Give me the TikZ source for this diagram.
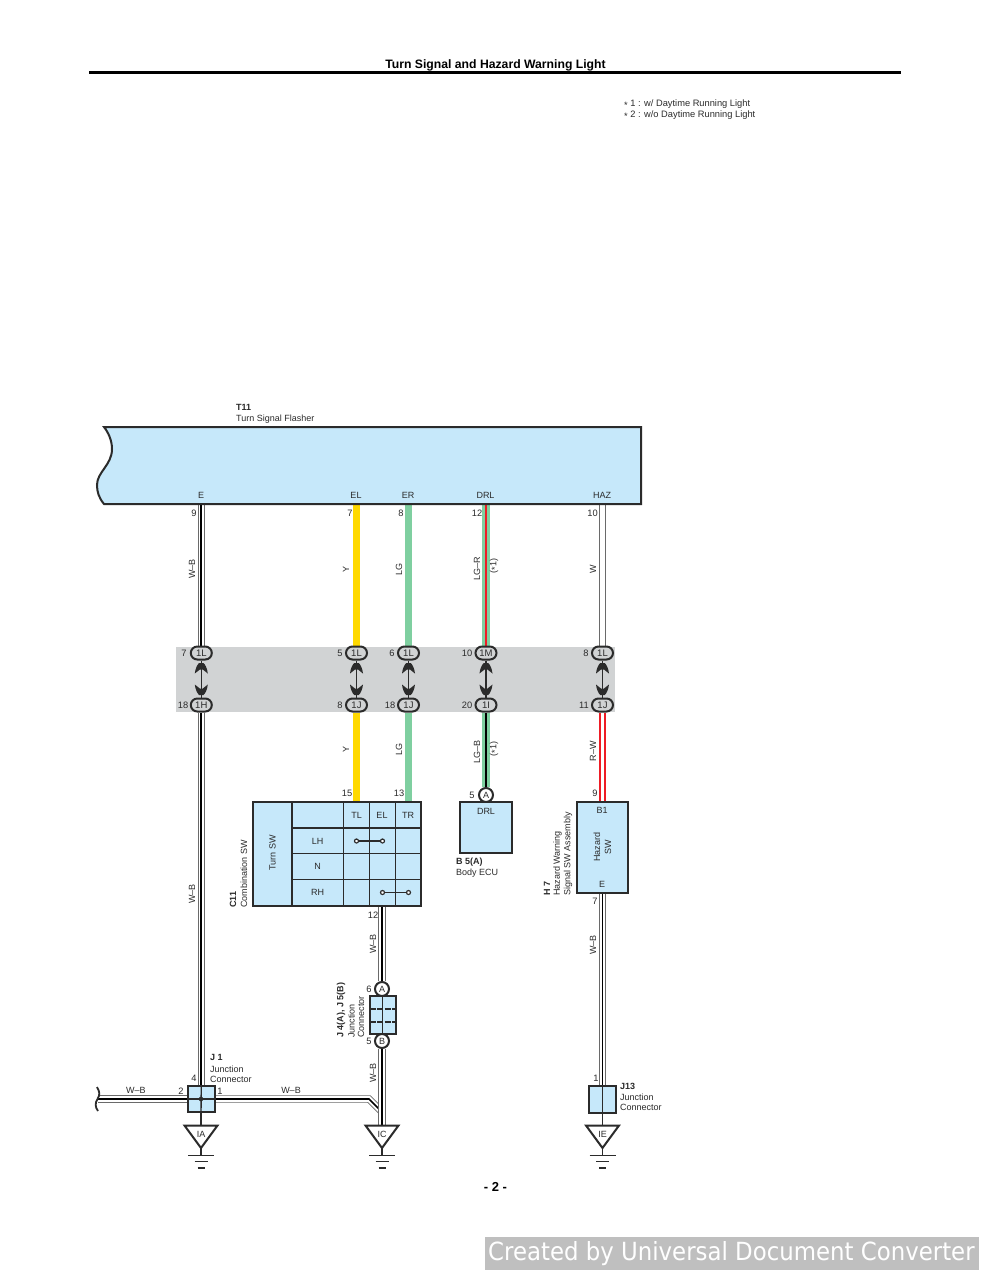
\documentclass[tikz,border=0pt]{standalone}
\usepackage{fontspec}
\setmainfont{Liberation Sans}
\newfontfamily\wmfont{DejaVu Sans}
\pgfdeclarelayer{bandlayer}
\pgfdeclarelayer{wirelayer}
\pgfsetlayers{bandlayer,wirelayer,main}
\definecolor{ecu}{HTML}{C6E8FA}
\definecolor{band}{HTML}{D1D3D4}
\definecolor{ink}{HTML}{2B2B2B}
\definecolor{wy}{HTML}{FFD900}
\definecolor{wg}{HTML}{7FCFA0}
\definecolor{wr}{HTML}{EE1C25}
\definecolor{wedge}{HTML}{6A6A6A}
\tikzset{
  txt/.style={text=ink,font=\fontsize{9}{10}\selectfont,inner sep=0pt},
  lab/.style={txt,anchor=west},
  blab/.style={txt,anchor=west,font=\fontsize{9}{10}\selectfont\bfseries},
  rlab/.style={txt,rotate=90},
  vlab/.style={txt,rotate=90,anchor=west},
  vblab/.style={vlab,font=\fontsize{9}{10}\selectfont\bfseries},
  pin/.style={txt,anchor=center,font=\fontsize{9.3}{10}\selectfont},
  box/.style={draw=ink,line width=2pt,fill=ecu,inner sep=0pt},
  oval/.style={draw=ink,line width=2pt,fill=band,rounded corners=6.5pt,minimum width=21pt,minimum height=13pt,inner sep=0pt,text=ink,font=\fontsize{9.5}{10}\selectfont},
  ringnode/.style={circle,draw=ink,line width=2pt,fill=white,minimum size=14pt,inner sep=0pt,text=ink,font=\fontsize{9}{10}\selectfont},
  gridline/.style={draw=ink,line width=1.3pt},
  wireWB/.style={draw=black,line width=1.7pt,preaction={draw=wedge,line width=7.4pt},preaction={draw=white,line width=5.6pt}},
  wireW/.style={draw=white,line width=5.6pt,preaction={draw=wedge,line width=7.4pt}},
  wireY/.style={draw=wy,line width=7.4pt},
  wireLG/.style={draw=wg,line width=7.4pt},
  wireLGR/.style={draw=wr,line width=2.2pt,preaction={draw=wg,line width=7.4pt}},
  wireLGB/.style={draw=black,line width=2.2pt,preaction={draw=wg,line width=7.4pt}},
  wireRW/.style={draw=white,line width=2.6pt,preaction={draw=wr,line width=7.4pt}},
  thinlink/.style={draw=ink,line width=1.4pt},
  conn/.style={draw=ink,line width=1.4pt},
  head/.style={fill=ink},
  tri/.style={draw=ink,line width=2pt,fill=white,line join=miter},
  gnd/.style={draw=ink,line width=1.2pt},
  sw/.style={draw=ink,line width=1.2pt},
  swdot/.style={circle,draw=ink,line width=1.2pt,fill=white,minimum size=4pt,inner sep=0pt},
  spot/.style={coordinate}
}
\newcommand{\earth}[4]{%
  \node[spot] (#1top) at (#2,1125.5) {};
  \draw[tri] (#2-16.5,1125.5) -- (#2+16.5,1125.5) -- (#2,1148) -- cycle;
  \node[txt] (#1) at (#2,1134) {#3};
  \draw[gnd] (#2,1148) -- (#2,1155.5);
  \draw[gnd] (#2-13,1155.5) -- (#2+13,1155.5);
  \draw[gnd] (#2-6.5,1161.7) -- (#2+6.5,1161.7);
  \draw[gnd] (#2-3.5,1168) -- (#2+3.5,1168);
}
\begin{document}
\begin{tikzpicture}[x=1pt,y=-1pt]
\useasboundingbox (0,0) rectangle (989,1280);
\begin{pgfonlayer}{bandlayer}
\fill[white] (0,0) rectangle (989,1280);
\fill[band] (176,647) rectangle (614.5,712);
\end{pgfonlayer}
% title
\node[txt,font=\fontsize{12.2}{14}\selectfont\bfseries,text=black] (title) at (495.5,65) {Turn Signal and Hazard Warning Light};
\draw[black,line width=2.6pt] (89,72.5) -- (901,72.5);
\node[lab,font=\fontsize{9.3}{10}\selectfont] (n1) at (624,104) {\raisebox{-.35ex}{*} 1 : w/ Daytime Running Light};
\node[lab,font=\fontsize{9.3}{10}\selectfont] (n2) at (624,115) {\raisebox{-.35ex}{*} 2 : w/o Daytime Running Light};
% T11
\draw[box] (104,427) -- (641,427) -- (641,504) -- (104,504)
  .. controls (99,498) and (97,492) .. (97,485)
  .. controls (97,472) and (112,465) .. (112,449)
  .. controls (112,440) and (108,432) .. (104,427) -- cycle;
\node[blab] (t11) at (236,407.5) {T11};
\node[lab] (t11b) at (236,419) {Turn Signal Flasher};
\node[spot] (tE) at (201.3,504) {};
\node[spot] (tEL) at (356.5,504) {};
\node[spot] (tER) at (408.5,504) {};
\node[spot] (tDRL) at (486,504) {};
\node[spot] (tHAZ) at (602.5,504) {};
\node[txt] (lE) at (201,495) {E};
\node[txt] (lEL) at (356,495) {EL};
\node[txt] (lER) at (408,495) {ER};
\node[txt] (lDRL) at (485.5,495) {DRL};
\node[txt] (lHAZ) at (602,495) {HAZ};
% connector ovals
\foreach \nm/\xx/\tu/\tl in {a/201.3/1L/1H,b/356.5/1L/1J,c/408.5/1L/1J,d/486/1M/1I,e/602.5/1L/1J}{
  \node[oval] (\nm u) at (\xx,653) {\tu};
  \node[oval] (\nm l) at (\xx,705) {\tl};
  \draw[conn] (\nm u.south) -- (\nm l.north);
  \fill[head,shift={(\nm u.south)}] (-2.2,2.5) -- (2.2,2.5) .. controls (4,4) and (6,8) .. (6.5,13) -- (1.5,9) -- (-1.5,9) -- (-6.5,13) .. controls (-6,8) and (-4,4) .. (-2.2,2.5) -- cycle;
  \fill[head,shift={(\nm l.north)}] (-2.2,-2.5) -- (2.2,-2.5) .. controls (4,-4) and (6,-8) .. (6.5,-13) -- (1.5,-9) -- (-1.5,-9) -- (-6.5,-13) .. controls (-6,-8) and (-4,-4) .. (-2.2,-2.5) -- cycle;
}
% pins
\foreach \xx/\yy/\tt in {194/513/9,350/513/7,401/513/8,477/513/12,592.5/513/10,
  184/653/7,340/653/5,392/653/6,467/653/10,586/653/8,
  183/705/18,340/705/8,390/705/18,467/705/20,584/705/11,
  347/793/15,399/793/13,472/795/5,595/793/9,373/915/12,369/989/6,369/1041/5,
  595/901/7,596/1078/1,194/1078/4,181/1091/2,220/1091/1}{
  \node[pin] at (\xx,\yy) {\tt};
}
% wire labels
\foreach \xx/\yy/\tt in {192/569/W--B,346/569/Y,399/569/LG,477/569/LG--R,494/566/(\raisebox{-.35ex}{*}1),593/569/W,
  346/749/Y,399/749/LG,477/752/LG--B,494/749/(\raisebox{-.35ex}{*}1),593/751/R--W,192/894/W--B,
  373/944/W--B,373/1073/W--B,593/945/W--B}{
  \node[rlab] at (\xx,\yy) {\tt};
}
\node[txt] (wbl) at (136,1090) {W--B};
\node[txt] (wbr) at (291,1090) {W--B};
% Combination SW
\draw[box] (253,802) rectangle (421,906);
\node[spot] (swTL) at (356.5,802) {};
\node[spot] (swTR) at (408.5,802) {};
\node[spot] (swB) at (382,906) {};
\draw[gridline] (292,802) -- (292,906) (343.5,802) -- (343.5,906) (369.5,802) -- (369.5,906) (395.5,802) -- (395.5,906);
\draw[gridline] (292,828) -- (421,828) (292,853.5) -- (421,853.5) (292,879.5) -- (421,879.5);
\node[txt] (sTL) at (356.5,815) {TL};
\node[txt] (sEL) at (382,815) {EL};
\node[txt] (sTR) at (408,815) {TR};
\node[txt] (sLH) at (317.5,841) {LH};
\node[txt] (sN) at (317.5,866) {N};
\node[txt] (sRH) at (317.5,892) {RH};
\node[rlab] (sT) at (272.5,853) {Turn SW};
\node[swdot] (d1) at (356.5,841) {};
\node[swdot] (d2) at (382.5,841) {};
\node[swdot] (d3) at (382.5,892.5) {};
\node[swdot] (d4) at (408.5,892.5) {};
\draw[sw] (d1) -- (d2);
\draw[sw] (d3) -- (d4);
\node[vblab] (c11) at (233,908) {C11};
\node[vlab] (c11b) at (244,908) {Combination SW};
% Body ECU
\node[ringnode] (A1) at (486,795) {A};
\draw[box] (460,802) rectangle (512,853);
\node[spot] (ecuT) at (486,802) {};
\node[txt] (drl2) at (486,811) {DRL};
\node[blab] (b5) at (456,862.5) {B 5(A)};
\node[lab] (b5b) at (456,873.5) {Body ECU};
% Hazard
\draw[box] (577,802) rectangle (628,892.5);
\node[spot] (hT) at (602.5,802) {};
\node[spot] (hB) at (602.5,892.5) {};
\node[txt] (hb1) at (602,810) {B1};
\node[txt] (he) at (602,884) {E};
\node[rlab] (hs1) at (597,847) {Hazard};
\node[rlab] (hs2) at (608,847) {SW};
\node[vblab] (h7) at (547,896) {H 7};
\node[vlab] (h7a) at (557.5,896) {Hazard Warning};
\node[vlab] (h7b) at (568,896) {Signal SW Assembly};
% J4/J5
\node[ringnode] (A2) at (382,989) {A};
\node[ringnode] (B2) at (382,1041) {B};
\draw[box] (369.5,996) rectangle (396,1034);
\draw[draw=ink,line width=1.4pt] (382.7,996) -- (382.7,1034);
\draw[draw=ink,line width=1.4pt,dash pattern=on 6pt off 1.5pt] (369.5,1009) -- (396,1009) (369.5,1022) -- (396,1022);
\node[spot] (j4T) at (382,996) {};
\node[vblab] (j4) at (341,1038) {J 4(A), J 5(B)};
\node[vlab] (j4a) at (351.5,1038) {Junction};
\node[vlab] (j4b) at (361,1038) {Connector};
% J1
\draw[box] (188,1086) rectangle (214.5,1112);
\node[spot] (j1c) at (201,1099) {};
\node[spot] (j1T) at (201.3,1086) {};
\node[spot] (j1L) at (188,1099) {};
\node[spot] (j1R) at (214.5,1099) {};
\node[spot] (j1B) at (201,1112) {};
\draw[thinlink] (j1T) -- (j1B);
\draw[thinlink] (j1L) -- (j1R);
\fill[ink] (j1c) circle (2.3pt);
\node[blab] (j1) at (210,1057.5) {J 1};
\node[lab] (j1a) at (210,1069.5) {Junction};
\node[lab] (j1b) at (210,1079.5) {Connector};
% J13
\draw[box] (589,1086) rectangle (615.5,1113);
\node[spot] (j13T) at (602.5,1086) {};
\node[spot] (j13B) at (602.5,1113) {};
\draw[thinlink] (j13T) -- (j13B);
\node[blab] (j13) at (620,1086.5) {J13};
\node[lab] (j13a) at (620,1097.5) {Junction};
\node[lab] (j13b) at (620,1107.5) {Connector};
% grounds
\earth{IA}{201}{IA}{}
\earth{IC}{382}{IC}{}
\earth{IE}{602.5}{IE}{}
% left wire end
\node[spot] (lw) at (98,1099) {};
\node[spot] (bend) at (369,1099) {};
\node[spot] (bend2) at (382,1112) {};
\draw[draw=ink,line width=1.8pt] (97,1087) .. controls (100,1092) and (100,1095) .. (97.5,1099) .. controls (95,1103) and (95,1107) .. (98,1111);
% wires
\begin{pgfonlayer}{wirelayer}
\draw[wireWB] (tE) -- (au.north);
\draw[wireY] (tEL) -- (bu.north);
\draw[wireLG] (tER) -- (cu.north);
\draw[wireLGR] (tDRL) -- (du.north);
\draw[wireW] (tHAZ) -- (eu.north);
\draw[wireWB] (al.south) -- (j1T);
\draw[wireY] (bl.south) -- (swTL);
\draw[wireLG] (cl.south) -- (swTR);
\draw[wireLGB] (dl.south) -- (A1.north);
\draw[wireRW] (el.south) -- (hT);
\draw[wireWB] (swB) -- (A2.north);
\draw[wireWB] (lw) -- (j1L);
\draw[wireWB] (j1R) -- (bend) -- (bend2) -- (ICtop);
\draw[wireWB] (B2.south) -- (ICtop);
\draw[wireWB] (hB) -- (j13T);
\draw[thinlink] (j1B) -- (IAtop);
\draw[thinlink] (j13B) -- (IEtop);
\end{pgfonlayer}
% page number and watermark
\node[txt,font=\fontsize{13}{14}\selectfont\bfseries,text=black] (pg) at (495.5,1187) {- 2 -};
\fill[black!25] (485,1237) rectangle (979,1270);
\node[txt,font=\fontsize{25}{28}\selectfont\wmfont,text=white,anchor=west,xscale=.914] (wm) at (488,1253.5) {Created by Universal Document Converter};
\end{tikzpicture}
\end{document}
